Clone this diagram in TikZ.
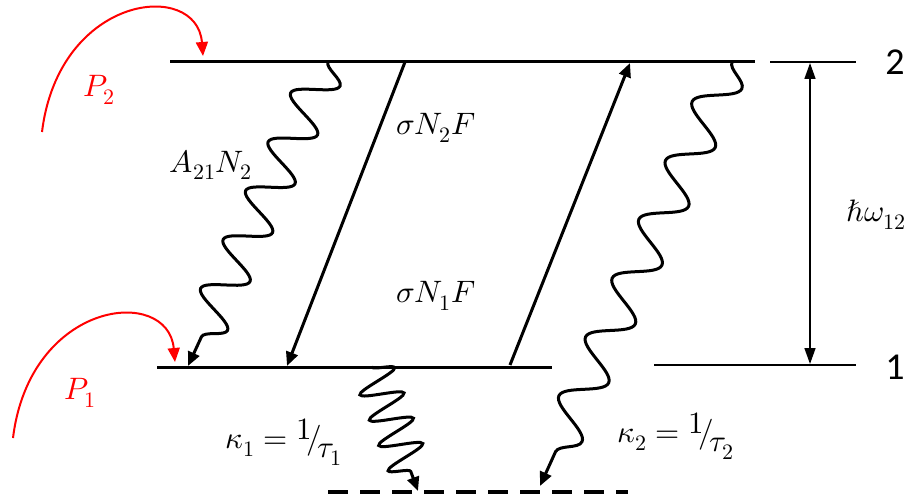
\documentclass[tikz,border=0pt]{standalone}
\usepackage{fontspec}
\usepackage{unicode-math}
\setmathfont{Latin Modern Math}
\newfontfamily\carl{Carlito}
\newcommand\sbx[1]{\mbox{\fontsize{22}{22}\selectfont$#1$}}
\usetikzlibrary{arrows.meta,decorations.pathmorphing}
\begin{document}
\begin{tikzpicture}[x=1pt,y=-1pt,
  lvl/.style={line width=3pt},
  thinlvl/.style={line width=1.6pt},
  tip/.style={-{Triangle[length=14pt,width=12pt]}},
  lab/.style={font=\fontsize{31}{35}\selectfont, inner sep=0pt},
  num/.style={font=\carl\fontsize{38}{40}\selectfont, inner sep=0pt},
  pump/.style={red, line width=2pt, -{Triangle[length=14pt,width=12pt]}},
]
\useasboundingbox (0,0) rectangle (921,497);
% levels
\coordinate (u1) at (170,62);  \coordinate (u2) at (755,62);
\coordinate (l1) at (157,367); \coordinate (l2) at (552,367);
\coordinate (ru1) at (770,62); \coordinate (ru2) at (856,62);
\coordinate (rl1) at (654,365); \coordinate (rl2) at (856,365);
\coordinate (d1) at (328,492); \coordinate (d2) at (628,492);
\draw[lvl] (u1) -- (u2);
\draw[lvl] (l1) -- (l2);
\draw[thinlvl] (ru1) -- (ru2);
\draw[thinlvl] (rl1) -- (rl2);
\draw[line width=3.5pt, dash pattern=on 20pt off 12pt] (d1) -- (d2);
% energy gap arrow
\coordinate (ea) at (810,63); \coordinate (eb) at (810,364);
\draw[thinlvl, {Triangle[length=16pt,width=11pt]}-{Triangle[length=16pt,width=11pt]}] (ea) -- (eb);
% stimulated emission / absorption
\coordinate (se1) at (405,62); \coordinate (se2) at (287,366);
\coordinate (ab1) at (510,365); \coordinate (ab2) at (630,63);
\draw[lvl, tip] (se1) -- (se2);
\draw[lvl, tip] (ab1) -- (ab2);
% spontaneous emission wave
\coordinate (w1a) at (328,62); \coordinate (w1b) at (188,366);
\draw[lvl, tip, decorate, decoration={snake, amplitude=21pt, segment length=53.8pt, post length=12pt}] (w1a) -- (w1b);
% right wave
\coordinate (w2a) at (732,62); \coordinate (w2b) at (540,486);
\draw[lvl, tip, decorate, decoration={snake, amplitude=20pt, segment length=64.6pt, post length=12pt}] (w2a) -- (w2b);
% zigzag
\coordinate (w3a) at (372,367); \coordinate (w3b) at (418,491);
\draw[lvl, tip, decorate, decoration={snake, amplitude=21pt, segment length=27pt, post length=12pt}] (w3a) -- (w3b);
% pumps
\coordinate (p2a) at (42,132); \coordinate (p2b) at (203,56);
\coordinate (p1a) at (13,438); \coordinate (p1b) at (175,362);
\draw[pump] (p1a) .. controls (30,300) and (168,285) .. (p1b);
\draw[pump] (p2a) .. controls (59,-6) and (197,-21) .. (p2b);
% labels
\node[lab, text=red] (P2) at (99,90) {$P_{\sbx{2}}$};
\node[lab, text=red] (P1) at (80,393) {$P_{\sbx{1}}$};
\node[lab] (A) at (211,165) {$A_{\sbx{21}}N_{\sbx{2}}$};
\node[lab] (s2) at (436,128) {$\sigma N_{\sbx{2}}F$};
\node[lab] (s1) at (436,296) {$\sigma N_{\sbx{1}}F$};
\node[lab] (hw) at (876,215) {$\hbar\omega_{\sbx{12}}$};
\node[lab] (k1) at (284,442) {$\kappa_{\sbx{1}} = \raisebox{0.3em}{$1$}\!/\!\raisebox{-0.3em}{$\tau_{\sbx{1}}$}$};
\node[lab] (k2) at (676,436) {$\kappa_{\sbx{2}} = \raisebox{0.3em}{$1$}\!/\!\raisebox{-0.3em}{$\tau_{\sbx{2}}$}$};
\node[num] (n2) at (895,62) {2};
\node[num] (n1) at (895,367) {1};
\end{tikzpicture}
\end{document}
